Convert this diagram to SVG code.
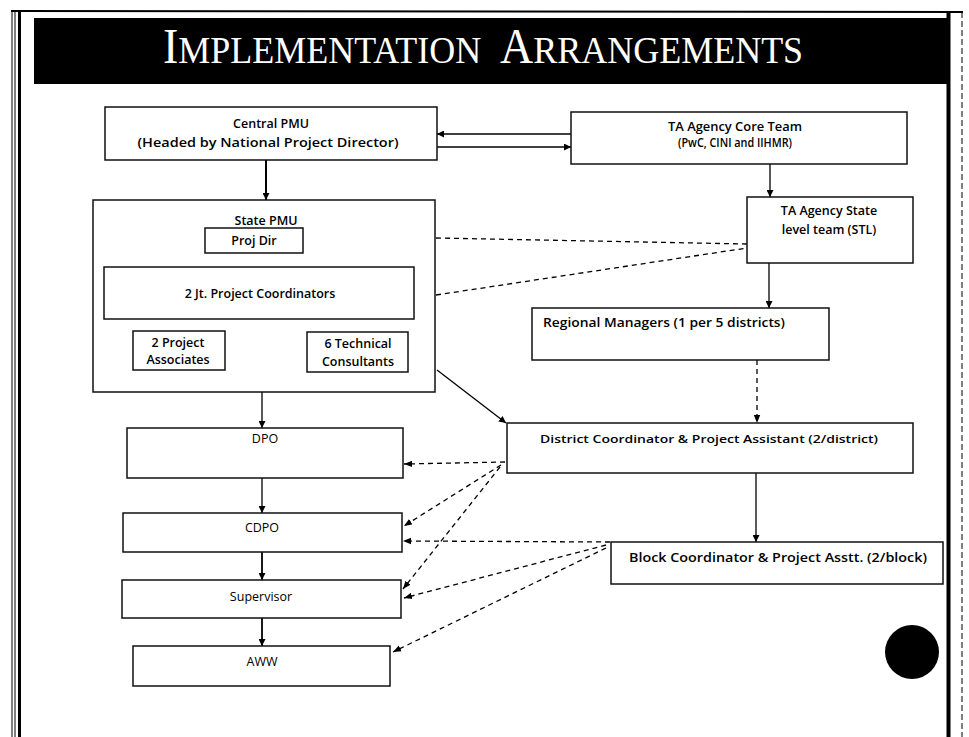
<svg xmlns="http://www.w3.org/2000/svg" width="969" height="737" viewBox="0 0 969 737">
<defs>
<marker id="ah" viewBox="0 0 10 10" refX="10" refY="5" markerWidth="7" markerHeight="7" markerUnits="userSpaceOnUse" orient="auto"><path d="M0,0 L10,5 L0,10 z" fill="#000"/></marker>
<marker id="ahd" viewBox="0 0 10 10" refX="10" refY="5" markerWidth="8" markerHeight="8" markerUnits="userSpaceOnUse" orient="auto"><path d="M0,1 L10,5 L0,9 z" fill="#000"/></marker>
</defs>
<style>
.box{fill:#fff;stroke:#111;stroke-width:1.5}
.t{font-family:"Open Sans","Liberation Sans",sans-serif;font-size:12.5px;fill:#000;text-anchor:middle;font-weight:600}
.r{font-weight:400}
.s{font-size:11.5px}
.solid{stroke:#000;stroke-width:1.3;fill:none;marker-end:url(#ah)}
.dash{stroke:#000;stroke-width:1.3;fill:none;stroke-dasharray:5 4}
.dasha{stroke:#000;stroke-width:1.3;fill:none;stroke-dasharray:5 4;marker-end:url(#ahd)}
.title{font-family:"Liberation Serif","Times New Roman",serif;fill:#fff;text-anchor:start}
.big{font-size:46px}
.sm{font-size:36px}
</style>
<rect width="969" height="737" fill="#fff"/>
<g id="frame" fill="none" stroke="#000">
<line x1="12" y1="10" x2="12" y2="737" stroke-width="1"/>
<line x1="15" y1="10" x2="15" y2="737" stroke-width="1"/>
<line x1="19.5" y1="10" x2="19.5" y2="737" stroke-width="3"/>
<line x1="11" y1="11" x2="963" y2="12" stroke-width="2"/>
<line x1="948.5" y1="12" x2="948.5" y2="737" stroke-width="4"/>
<line x1="962" y1="12" x2="962" y2="737" stroke-width="1" stroke-dasharray="6 3"/>
</g>
<g id="title">
<rect x="34" y="18" width="913" height="66" fill="#000"/>
<g transform="translate(0,63) scale(1,1.08) translate(0,-63)">
<text class="title" x="163" y="63"><tspan class="big">I</tspan><tspan class="sm">MPLEMENTATION</tspan></text>
<text class="title" x="500" y="63"><tspan class="big">A</tspan><tspan class="sm">RRANGEMENTS</tspan></text>
</g>
</g>
<g id="connectors">
<line class="solid" x1="571" y1="134" x2="437" y2="134"/>
<line class="solid" x1="437" y1="147" x2="571" y2="147"/>
<line class="solid" x1="266" y1="160" x2="266" y2="200" style="stroke-width:2"/>
<line class="solid" x1="770" y1="164" x2="770" y2="197"/>
<line class="solid" x1="253" y1="253" x2="253" y2="267"/>
<line class="solid" x1="177" y1="319" x2="177" y2="331"/>
<line class="solid" x1="360" y1="319" x2="360" y2="332"/>
<line class="dash" x1="436" y1="238" x2="747" y2="244"/>
<line class="dash" x1="436" y1="295" x2="747" y2="248"/>
<line class="solid" x1="769" y1="263" x2="769" y2="308"/>
<line class="dasha" x1="757" y1="360" x2="757" y2="423"/>
<line class="solid" x1="437" y1="370" x2="506" y2="423"/>
<line class="solid" x1="262" y1="392" x2="262" y2="428"/>
<line class="solid" x1="262" y1="478" x2="262" y2="513"/>
<line class="solid" x1="262" y1="552" x2="262" y2="580" style="stroke-width:1.8"/>
<line class="solid" x1="262" y1="618" x2="262" y2="646" style="stroke-width:1.8"/>
<line class="solid" x1="756" y1="473" x2="756" y2="542"/>
<line class="dasha" x1="505" y1="462" x2="404" y2="464"/>
<line class="dasha" x1="501" y1="465" x2="404" y2="526"/>
<line class="dasha" x1="500" y1="467" x2="403" y2="589"/>
<line class="dasha" x1="610" y1="542" x2="403" y2="541"/>
<line class="dasha" x1="606" y1="545" x2="404" y2="598"/>
<line class="dasha" x1="606" y1="548" x2="393" y2="652"/>
</g>
<g id="central-pmu">
<rect class="box" x="105" y="107" width="332" height="53"/>
<text class="t" x="271" y="128">Central PMU</text>
<text class="t" x="268" y="147" textLength="261" lengthAdjust="spacingAndGlyphs">(Headed by National Project Director)</text>
</g>
<g id="ta-core">
<rect class="box" x="571" y="112" width="336" height="52"/>
<text class="t" x="735" y="131" textLength="134" lengthAdjust="spacingAndGlyphs">TA Agency Core Team</text>
<text class="t" x="735" y="147" textLength="114" lengthAdjust="spacingAndGlyphs">(PwC, CINI and IIHMR)</text>
</g>
<g id="state-pmu">
<rect class="box" x="93" y="200" width="342" height="192"/>
<text class="t" x="266" y="225">State PMU</text>
</g>
<g id="proj-dir">
<rect class="box" x="205" y="228" width="98" height="25"/>
<text class="t" x="254" y="245">Proj Dir</text>
</g>
<g id="jt-coord">
<rect class="box" x="104" y="267" width="310" height="52"/>
<text class="t" x="260" y="298">2 Jt. Project Coordinators</text>
</g>
<g id="proj-assoc">
<rect class="box" x="133" y="331" width="92" height="39"/>
<text class="t" x="178" y="347">2 Project</text>
<text class="t" x="178" y="364">Associates</text>
</g>
<g id="tech-cons">
<rect class="box" x="307" y="332" width="101" height="40"/>
<text class="t" x="358" y="348">6 Technical</text>
<text class="t" x="358" y="366">Consultants</text>
</g>
<g id="ta-state">
<rect class="box" x="747" y="197" width="166" height="66"/>
<text class="t" x="829" y="215">TA Agency State</text>
<text class="t" x="829" y="234">level team (STL)</text>
</g>
<g id="regional">
<rect class="box" x="532" y="308" width="297" height="52"/>
<text class="t" x="543" y="327" style="text-anchor:start" textLength="242" lengthAdjust="spacingAndGlyphs">Regional Managers (1 per 5 districts)</text>
</g>
<g id="district">
<rect class="box" x="507" y="423" width="406" height="50"/>
<text class="t s" x="540" y="443" style="text-anchor:start" textLength="338" lengthAdjust="spacingAndGlyphs">District Coordinator &amp; Project Assistant (2/district)</text>
</g>
<g id="dpo">
<rect class="box" x="127" y="428" width="276" height="50"/>
<text class="t r" x="265" y="443">DPO</text>
</g>
<g id="cdpo">
<rect class="box" x="123" y="513" width="279" height="39"/>
<text class="t r" x="262" y="532">CDPO</text>
</g>
<g id="supervisor">
<rect class="box" x="122" y="580" width="279" height="38"/>
<text class="t r" x="261" y="601">Supervisor</text>
</g>
<g id="aww">
<rect class="box" x="133" y="646" width="257" height="40"/>
<text class="t r" x="262" y="666">AWW</text>
</g>
<g id="block">
<rect class="box" x="611" y="542" width="332" height="42"/>
<text class="t" x="778" y="562" textLength="298" lengthAdjust="spacingAndGlyphs">Block Coordinator &amp; Project Asstt.  (2/block)</text>
</g>
<g id="page-badge">
<circle cx="912" cy="652" r="27" fill="#000"/>
</g>
</svg>
